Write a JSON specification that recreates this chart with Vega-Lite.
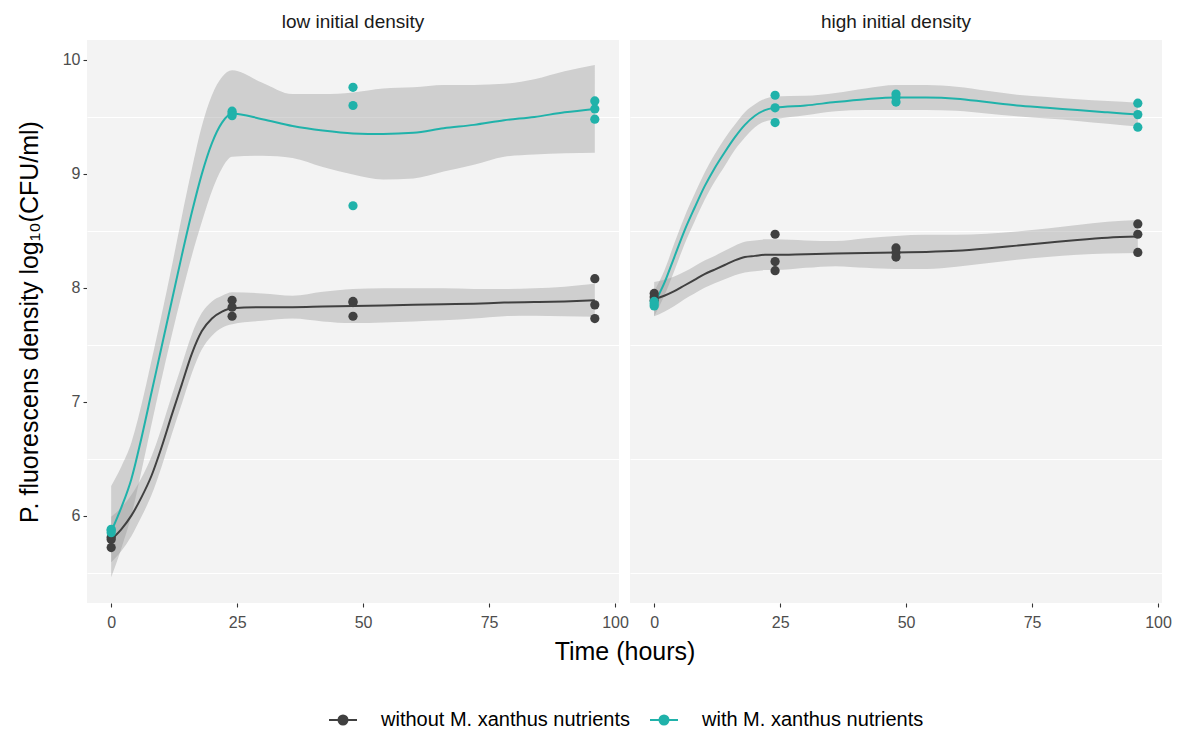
{
  "$schema": "https://vega.github.io/schema/vega-lite/v6.json",
  "background": "white",
  "padding": {"left": 17, "top": 13, "right": 8, "bottom": 0},
  "data": {"values": [
    {"d":"low initial density","g":"without M. xanthus nutrients","t":0,"v":5.81},
    {"d":"low initial density","g":"without M. xanthus nutrients","t":0,"v":5.79},
    {"d":"low initial density","g":"without M. xanthus nutrients","t":0,"v":5.72},
    {"d":"low initial density","g":"without M. xanthus nutrients","t":24,"v":7.89},
    {"d":"low initial density","g":"without M. xanthus nutrients","t":24,"v":7.83},
    {"d":"low initial density","g":"without M. xanthus nutrients","t":24,"v":7.75},
    {"d":"low initial density","g":"without M. xanthus nutrients","t":48,"v":7.88},
    {"d":"low initial density","g":"without M. xanthus nutrients","t":48,"v":7.87},
    {"d":"low initial density","g":"without M. xanthus nutrients","t":48,"v":7.75},
    {"d":"low initial density","g":"without M. xanthus nutrients","t":96,"v":8.08},
    {"d":"low initial density","g":"without M. xanthus nutrients","t":96,"v":7.85},
    {"d":"low initial density","g":"without M. xanthus nutrients","t":96,"v":7.73},
    {"d":"low initial density","g":"with M. xanthus nutrients","t":0,"v":5.88},
    {"d":"low initial density","g":"with M. xanthus nutrients","t":0,"v":5.87},
    {"d":"low initial density","g":"with M. xanthus nutrients","t":0,"v":5.85},
    {"d":"low initial density","g":"with M. xanthus nutrients","t":24,"v":9.55},
    {"d":"low initial density","g":"with M. xanthus nutrients","t":24,"v":9.53},
    {"d":"low initial density","g":"with M. xanthus nutrients","t":24,"v":9.51},
    {"d":"low initial density","g":"with M. xanthus nutrients","t":48,"v":9.76},
    {"d":"low initial density","g":"with M. xanthus nutrients","t":48,"v":9.60},
    {"d":"low initial density","g":"with M. xanthus nutrients","t":48,"v":8.72},
    {"d":"low initial density","g":"with M. xanthus nutrients","t":96,"v":9.64},
    {"d":"low initial density","g":"with M. xanthus nutrients","t":96,"v":9.57},
    {"d":"low initial density","g":"with M. xanthus nutrients","t":96,"v":9.48},
    {"d":"high initial density","g":"without M. xanthus nutrients","t":0,"v":7.95},
    {"d":"high initial density","g":"without M. xanthus nutrients","t":0,"v":7.92},
    {"d":"high initial density","g":"without M. xanthus nutrients","t":0,"v":7.89},
    {"d":"high initial density","g":"without M. xanthus nutrients","t":24,"v":8.47},
    {"d":"high initial density","g":"without M. xanthus nutrients","t":24,"v":8.23},
    {"d":"high initial density","g":"without M. xanthus nutrients","t":24,"v":8.15},
    {"d":"high initial density","g":"without M. xanthus nutrients","t":48,"v":8.35},
    {"d":"high initial density","g":"without M. xanthus nutrients","t":48,"v":8.31},
    {"d":"high initial density","g":"without M. xanthus nutrients","t":48,"v":8.27},
    {"d":"high initial density","g":"without M. xanthus nutrients","t":96,"v":8.56},
    {"d":"high initial density","g":"without M. xanthus nutrients","t":96,"v":8.47},
    {"d":"high initial density","g":"without M. xanthus nutrients","t":96,"v":8.31},
    {"d":"high initial density","g":"with M. xanthus nutrients","t":0,"v":7.84},
    {"d":"high initial density","g":"with M. xanthus nutrients","t":0,"v":7.86},
    {"d":"high initial density","g":"with M. xanthus nutrients","t":0,"v":7.88},
    {"d":"high initial density","g":"with M. xanthus nutrients","t":24,"v":9.69},
    {"d":"high initial density","g":"with M. xanthus nutrients","t":24,"v":9.58},
    {"d":"high initial density","g":"with M. xanthus nutrients","t":24,"v":9.45},
    {"d":"high initial density","g":"with M. xanthus nutrients","t":48,"v":9.70},
    {"d":"high initial density","g":"with M. xanthus nutrients","t":48,"v":9.67},
    {"d":"high initial density","g":"with M. xanthus nutrients","t":48,"v":9.63},
    {"d":"high initial density","g":"with M. xanthus nutrients","t":96,"v":9.62},
    {"d":"high initial density","g":"with M. xanthus nutrients","t":96,"v":9.52},
    {"d":"high initial density","g":"with M. xanthus nutrients","t":96,"v":9.41},

    {"d":"low initial density","g":"without M. xanthus nutrients","t":0,"fit":5.79,"lo":5.59,"hi":5.99},
    {"d":"low initial density","g":"without M. xanthus nutrients","t":2,"fit":5.88,"lo":5.69,"hi":6.07},
    {"d":"low initial density","g":"without M. xanthus nutrients","t":4,"fit":6.00,"lo":5.82,"hi":6.18},
    {"d":"low initial density","g":"without M. xanthus nutrients","t":6,"fit":6.16,"lo":5.99,"hi":6.33},
    {"d":"low initial density","g":"without M. xanthus nutrients","t":8,"fit":6.35,"lo":6.18,"hi":6.52},
    {"d":"low initial density","g":"without M. xanthus nutrients","t":10,"fit":6.60,"lo":6.43,"hi":6.77},
    {"d":"low initial density","g":"without M. xanthus nutrients","t":12,"fit":6.88,"lo":6.71,"hi":7.05},
    {"d":"low initial density","g":"without M. xanthus nutrients","t":14,"fit":7.15,"lo":6.98,"hi":7.32},
    {"d":"low initial density","g":"without M. xanthus nutrients","t":16,"fit":7.42,"lo":7.25,"hi":7.59},
    {"d":"low initial density","g":"without M. xanthus nutrients","t":18,"fit":7.62,"lo":7.46,"hi":7.78},
    {"d":"low initial density","g":"without M. xanthus nutrients","t":20,"fit":7.73,"lo":7.58,"hi":7.88},
    {"d":"low initial density","g":"without M. xanthus nutrients","t":22,"fit":7.79,"lo":7.65,"hi":7.93},
    {"d":"low initial density","g":"without M. xanthus nutrients","t":24,"fit":7.82,"lo":7.68,"hi":7.96},
    {"d":"low initial density","g":"without M. xanthus nutrients","t":30,"fit":7.83,"lo":7.71,"hi":7.95},
    {"d":"low initial density","g":"without M. xanthus nutrients","t":36,"fit":7.83,"lo":7.73,"hi":7.93},
    {"d":"low initial density","g":"without M. xanthus nutrients","t":42,"fit":7.835,"lo":7.705,"hi":7.965},
    {"d":"low initial density","g":"without M. xanthus nutrients","t":48,"fit":7.84,"lo":7.69,"hi":7.99},
    {"d":"low initial density","g":"without M. xanthus nutrients","t":54,"fit":7.845,"lo":7.695,"hi":7.995},
    {"d":"low initial density","g":"without M. xanthus nutrients","t":60,"fit":7.85,"lo":7.705,"hi":7.995},
    {"d":"low initial density","g":"without M. xanthus nutrients","t":66,"fit":7.855,"lo":7.715,"hi":7.995},
    {"d":"low initial density","g":"without M. xanthus nutrients","t":72,"fit":7.86,"lo":7.73,"hi":7.99},
    {"d":"low initial density","g":"without M. xanthus nutrients","t":78,"fit":7.87,"lo":7.75,"hi":7.99},
    {"d":"low initial density","g":"without M. xanthus nutrients","t":84,"fit":7.875,"lo":7.755,"hi":7.995},
    {"d":"low initial density","g":"without M. xanthus nutrients","t":90,"fit":7.88,"lo":7.75,"hi":8.01},
    {"d":"low initial density","g":"without M. xanthus nutrients","t":96,"fit":7.89,"lo":7.745,"hi":8.035},

    {"d":"low initial density","g":"with M. xanthus nutrients","t":0,"fit":5.86,"lo":5.46,"hi":6.26},
    {"d":"low initial density","g":"with M. xanthus nutrients","t":2,"fit":6.07,"lo":5.71,"hi":6.43},
    {"d":"low initial density","g":"with M. xanthus nutrients","t":4,"fit":6.32,"lo":6.00,"hi":6.64},
    {"d":"low initial density","g":"with M. xanthus nutrients","t":6,"fit":6.68,"lo":6.39,"hi":6.97},
    {"d":"low initial density","g":"with M. xanthus nutrients","t":8,"fit":7.08,"lo":6.80,"hi":7.36},
    {"d":"low initial density","g":"with M. xanthus nutrients","t":10,"fit":7.48,"lo":7.20,"hi":7.76},
    {"d":"low initial density","g":"with M. xanthus nutrients","t":12,"fit":7.88,"lo":7.58,"hi":8.18},
    {"d":"low initial density","g":"with M. xanthus nutrients","t":14,"fit":8.28,"lo":7.94,"hi":8.62},
    {"d":"low initial density","g":"with M. xanthus nutrients","t":16,"fit":8.66,"lo":8.28,"hi":9.04},
    {"d":"low initial density","g":"with M. xanthus nutrients","t":18,"fit":9.00,"lo":8.58,"hi":9.42},
    {"d":"low initial density","g":"with M. xanthus nutrients","t":20,"fit":9.27,"lo":8.85,"hi":9.69},
    {"d":"low initial density","g":"with M. xanthus nutrients","t":22,"fit":9.45,"lo":9.05,"hi":9.85},
    {"d":"low initial density","g":"with M. xanthus nutrients","t":24,"fit":9.53,"lo":9.15,"hi":9.91},
    {"d":"low initial density","g":"with M. xanthus nutrients","t":30,"fit":9.48,"lo":9.16,"hi":9.80},
    {"d":"low initial density","g":"with M. xanthus nutrients","t":36,"fit":9.42,"lo":9.14,"hi":9.70},
    {"d":"low initial density","g":"with M. xanthus nutrients","t":42,"fit":9.38,"lo":9.06,"hi":9.70},
    {"d":"low initial density","g":"with M. xanthus nutrients","t":48,"fit":9.355,"lo":8.995,"hi":9.715},
    {"d":"low initial density","g":"with M. xanthus nutrients","t":54,"fit":9.35,"lo":8.95,"hi":9.75},
    {"d":"low initial density","g":"with M. xanthus nutrients","t":60,"fit":9.36,"lo":8.96,"hi":9.76},
    {"d":"low initial density","g":"with M. xanthus nutrients","t":66,"fit":9.40,"lo":9.02,"hi":9.78},
    {"d":"low initial density","g":"with M. xanthus nutrients","t":72,"fit":9.43,"lo":9.08,"hi":9.78},
    {"d":"low initial density","g":"with M. xanthus nutrients","t":78,"fit":9.47,"lo":9.15,"hi":9.79},
    {"d":"low initial density","g":"with M. xanthus nutrients","t":84,"fit":9.50,"lo":9.17,"hi":9.83},
    {"d":"low initial density","g":"with M. xanthus nutrients","t":90,"fit":9.54,"lo":9.18,"hi":9.90},
    {"d":"low initial density","g":"with M. xanthus nutrients","t":96,"fit":9.57,"lo":9.185,"hi":9.955},

    {"d":"high initial density","g":"without M. xanthus nutrients","t":0,"fit":7.90,"lo":7.75,"hi":8.05},
    {"d":"high initial density","g":"without M. xanthus nutrients","t":2,"fit":7.93,"lo":7.79,"hi":8.07},
    {"d":"high initial density","g":"without M. xanthus nutrients","t":4,"fit":7.97,"lo":7.84,"hi":8.10},
    {"d":"high initial density","g":"without M. xanthus nutrients","t":6,"fit":8.02,"lo":7.90,"hi":8.14},
    {"d":"high initial density","g":"without M. xanthus nutrients","t":8,"fit":8.07,"lo":7.95,"hi":8.19},
    {"d":"high initial density","g":"without M. xanthus nutrients","t":10,"fit":8.12,"lo":8.00,"hi":8.24},
    {"d":"high initial density","g":"without M. xanthus nutrients","t":12,"fit":8.16,"lo":8.04,"hi":8.28},
    {"d":"high initial density","g":"without M. xanthus nutrients","t":14,"fit":8.20,"lo":8.075,"hi":8.325},
    {"d":"high initial density","g":"without M. xanthus nutrients","t":16,"fit":8.24,"lo":8.11,"hi":8.37},
    {"d":"high initial density","g":"without M. xanthus nutrients","t":18,"fit":8.27,"lo":8.135,"hi":8.405},
    {"d":"high initial density","g":"without M. xanthus nutrients","t":20,"fit":8.28,"lo":8.145,"hi":8.415},
    {"d":"high initial density","g":"without M. xanthus nutrients","t":22,"fit":8.29,"lo":8.155,"hi":8.425},
    {"d":"high initial density","g":"without M. xanthus nutrients","t":24,"fit":8.29,"lo":8.155,"hi":8.425},
    {"d":"high initial density","g":"without M. xanthus nutrients","t":30,"fit":8.295,"lo":8.175,"hi":8.415},
    {"d":"high initial density","g":"without M. xanthus nutrients","t":36,"fit":8.30,"lo":8.19,"hi":8.41},
    {"d":"high initial density","g":"without M. xanthus nutrients","t":42,"fit":8.305,"lo":8.175,"hi":8.435},
    {"d":"high initial density","g":"without M. xanthus nutrients","t":48,"fit":8.31,"lo":8.165,"hi":8.455},
    {"d":"high initial density","g":"without M. xanthus nutrients","t":54,"fit":8.315,"lo":8.165,"hi":8.465},
    {"d":"high initial density","g":"without M. xanthus nutrients","t":60,"fit":8.325,"lo":8.185,"hi":8.465},
    {"d":"high initial density","g":"without M. xanthus nutrients","t":66,"fit":8.345,"lo":8.215,"hi":8.475},
    {"d":"high initial density","g":"without M. xanthus nutrients","t":72,"fit":8.37,"lo":8.245,"hi":8.495},
    {"d":"high initial density","g":"without M. xanthus nutrients","t":78,"fit":8.395,"lo":8.27,"hi":8.52},
    {"d":"high initial density","g":"without M. xanthus nutrients","t":84,"fit":8.42,"lo":8.29,"hi":8.55},
    {"d":"high initial density","g":"without M. xanthus nutrients","t":90,"fit":8.44,"lo":8.30,"hi":8.58},
    {"d":"high initial density","g":"without M. xanthus nutrients","t":96,"fit":8.45,"lo":8.305,"hi":8.595},

    {"d":"high initial density","g":"with M. xanthus nutrients","t":0,"fit":7.86,"lo":7.75,"hi":7.97},
    {"d":"high initial density","g":"with M. xanthus nutrients","t":2,"fit":8.04,"lo":7.93,"hi":8.15},
    {"d":"high initial density","g":"with M. xanthus nutrients","t":4,"fit":8.27,"lo":8.15,"hi":8.39},
    {"d":"high initial density","g":"with M. xanthus nutrients","t":6,"fit":8.50,"lo":8.38,"hi":8.62},
    {"d":"high initial density","g":"with M. xanthus nutrients","t":8,"fit":8.70,"lo":8.58,"hi":8.82},
    {"d":"high initial density","g":"with M. xanthus nutrients","t":10,"fit":8.89,"lo":8.77,"hi":9.01},
    {"d":"high initial density","g":"with M. xanthus nutrients","t":12,"fit":9.05,"lo":8.93,"hi":9.17},
    {"d":"high initial density","g":"with M. xanthus nutrients","t":14,"fit":9.19,"lo":9.07,"hi":9.31},
    {"d":"high initial density","g":"with M. xanthus nutrients","t":16,"fit":9.32,"lo":9.21,"hi":9.43},
    {"d":"high initial density","g":"with M. xanthus nutrients","t":18,"fit":9.43,"lo":9.32,"hi":9.54},
    {"d":"high initial density","g":"with M. xanthus nutrients","t":20,"fit":9.51,"lo":9.41,"hi":9.61},
    {"d":"high initial density","g":"with M. xanthus nutrients","t":22,"fit":9.56,"lo":9.46,"hi":9.66},
    {"d":"high initial density","g":"with M. xanthus nutrients","t":24,"fit":9.58,"lo":9.48,"hi":9.68},
    {"d":"high initial density","g":"with M. xanthus nutrients","t":30,"fit":9.60,"lo":9.515,"hi":9.685},
    {"d":"high initial density","g":"with M. xanthus nutrients","t":36,"fit":9.63,"lo":9.55,"hi":9.71},
    {"d":"high initial density","g":"with M. xanthus nutrients","t":42,"fit":9.655,"lo":9.56,"hi":9.75},
    {"d":"high initial density","g":"with M. xanthus nutrients","t":48,"fit":9.67,"lo":9.56,"hi":9.78},
    {"d":"high initial density","g":"with M. xanthus nutrients","t":54,"fit":9.67,"lo":9.56,"hi":9.78},
    {"d":"high initial density","g":"with M. xanthus nutrients","t":60,"fit":9.66,"lo":9.555,"hi":9.765},
    {"d":"high initial density","g":"with M. xanthus nutrients","t":66,"fit":9.63,"lo":9.53,"hi":9.73},
    {"d":"high initial density","g":"with M. xanthus nutrients","t":72,"fit":9.60,"lo":9.505,"hi":9.695},
    {"d":"high initial density","g":"with M. xanthus nutrients","t":78,"fit":9.58,"lo":9.485,"hi":9.675},
    {"d":"high initial density","g":"with M. xanthus nutrients","t":84,"fit":9.56,"lo":9.465,"hi":9.655},
    {"d":"high initial density","g":"with M. xanthus nutrients","t":90,"fit":9.54,"lo":9.44,"hi":9.64},
    {"d":"high initial density","g":"with M. xanthus nutrients","t":96,"fit":9.52,"lo":9.415,"hi":9.625}
  ]},
  "facet": {
    "column": {
      "field": "d", "type": "nominal",
      "sort": ["low initial density", "high initial density"],
      "header": {
        "title": "Time (hours)", "titleOrient": "bottom", "titleFontSize": 25, "titleFontWeight": "normal", "titleColor": "#000000", "titlePadding": 0,
        "labelOrient": "top", "labelFontSize": 19, "labelColor": "#1A1A1A", "labelPadding": 8
      }
    }
  },
  "spacing": 11,
  "spec": {
    "width": 532,
    "height": 563,
    "encoding": {
      "x": {"field": "t", "type": "quantitative", "scale": {"domain": [-4.8, 100.8], "nice": false, "zero": false},
            "axis": {"values": [0, 25, 50, 75, 100], "grid": false, "title": null, "labelPadding": 7}},
      "color": {"field": "g", "type": "nominal",
                "scale": {"domain": ["without M. xanthus nutrients", "with M. xanthus nutrients"], "range": ["#404040", "#20B2AA"]},
                "legend": {"title": null, "orient": "none", "legendX": 246, "legendY": 670, "direction": "horizontal", "labelFontSize": 20, "labelColor": "#000000", "labelLimit": 0,
                           "symbolType": "M-2.8,0L2.8,0M-0.9,0A0.9,0.9,0,1,1,0.9,0A0.9,0.9,0,1,1,-0.9,0Z",
                           "symbolSize": 100, "symbolStrokeWidth": 2, "labelOffset": 28, "columnPadding": 15,
                           "encode": {"symbols": {"update": {"fill": {"scale": "color", "field": "value"}, "stroke": {"scale": "color", "field": "value"}, "fillOpacity": {"value": 1}, "strokeOpacity": {"value": 1}}}}}}
    },
    "layer": [
      {
        "transform": [{"filter": "isValid(datum.fit)"}],
        "mark": {"type": "area", "interpolate": "monotone", "color": "#999999", "opacity": 0.4},
        "encoding": {
          "y": {"field": "lo", "type": "quantitative"},
          "y2": {"field": "hi"},
          "color": null,
          "detail": {"field": "g"}
        }
      },
      {
        "transform": [{"filter": "isValid(datum.fit)"}],
        "mark": {"type": "line", "interpolate": "monotone", "strokeWidth": 2},
        "encoding": {
          "y": {"field": "fit", "type": "quantitative"}
        }
      },
      {
        "transform": [{"filter": "isValid(datum.v)"}],
        "mark": {"type": "circle", "size": 85, "opacity": 1},
        "encoding": {
          "y": {"field": "v", "type": "quantitative",
                "scale": {"domain": [5.233, 10.175], "nice": false, "zero": false},
                "axis": {"title": "P. fluorescens density log₁₀(CFU/ml)",
                         "values": [5.5, 6, 6.5, 7, 7.5, 8, 8.5, 9, 9.5, 10],
                         "labelExpr": "datum.value % 1 == 0 ? format(datum.value, 'd') : ''",
                         "gridColor": "#FFFFFF",
                         "gridOpacity": {"condition": {"test": "datum.value % 1 != 0", "value": 1}, "value": 0},
                         "tickOpacity": {"condition": {"test": "datum.value % 1 == 0", "value": 1}, "value": 0},
                         "titlePadding": 20}}
        }
      }
    ]
  },
  "config": {
    "font": "Liberation Sans",
    "view": {"fill": "#F3F3F3", "stroke": null},
    "axis": {"domain": false, "tickColor": "#333333", "tickSize": 4, "tickWidth": 1.1, "labelColor": "#4D4D4D", "labelFontSize": 16, "labelPadding": 3,
             "titleColor": "#000000", "titleFontSize": 25, "titleFontWeight": "normal"}
  }
}
